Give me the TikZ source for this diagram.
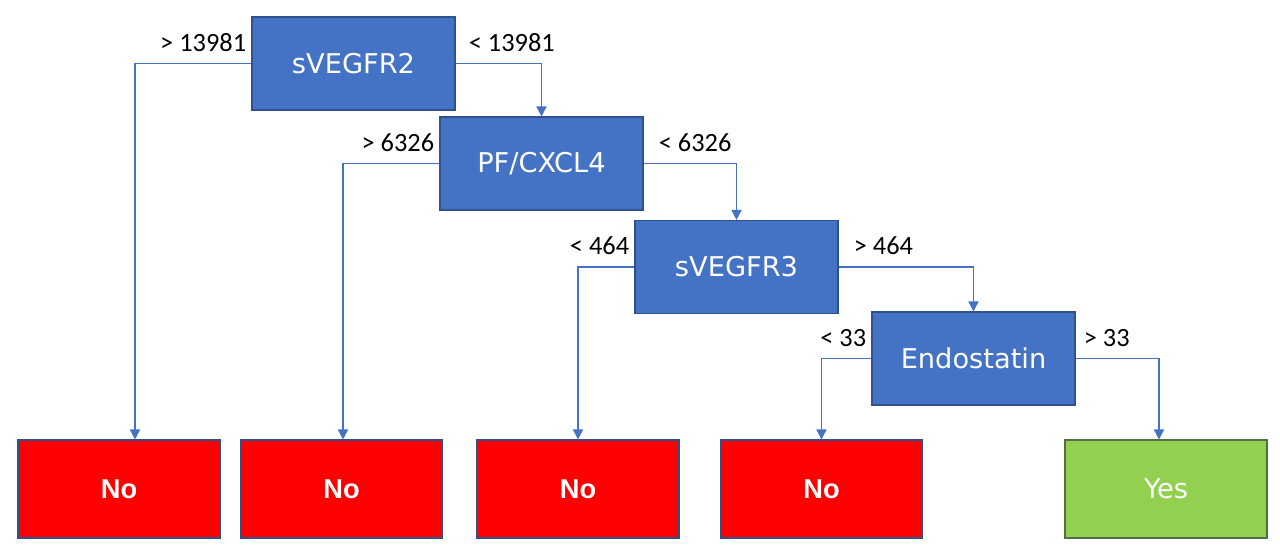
\documentclass[tikz,border=0pt]{standalone}
\usepackage{fontspec}
\newfontfamily\boxfont{DejaVu Sans}
\newfontfamily\leaffont{Liberation Sans}
\newfontfamily\lblfont{Carlito}
\usetikzlibrary{positioning,arrows.meta}

\definecolor{nodeblue}{RGB}{68,114,196}
\definecolor{edgeblue}{RGB}{47,82,143}
\definecolor{leafred}{RGB}{255,0,0}
\definecolor{leafgreen}{RGB}{146,208,80}
\definecolor{greenedge}{RGB}{84,110,70}

\begin{document}
\begin{tikzpicture}

\tikzset{splitbox/.style={draw=edgeblue, line width=0.6pt, fill=nodeblue, rectangle, minimum height=1.86cm, minimum width=4.06cm, inner sep=0pt, text=white, font=\boxfont\fontsize{15.5}{18}\selectfont}}
\tikzset{leafbox/.style={draw=edgeblue, line width=0.6pt, fill=leafred, rectangle, minimum height=1.96cm, minimum width=4.04cm, inner sep=0pt, text=white, font=\leaffont\bfseries\fontsize{15.5}{18}\selectfont}}
\tikzset{yesbox/.style={leafbox, draw=greenedge, fill=leafgreen, font=\boxfont\fontsize{15.5}{18}\selectfont}}
\tikzset{cutlabel/.style={inner sep=0pt, text=black, font=\lblfont\fontsize{15}{18}\selectfont}}
\tikzset{branch/.style={draw=nodeblue, line width=0.9pt, -{Triangle[length=2mm, width=2mm]}}}

\useasboundingbox (0, 0) rectangle (25.6, 11.08);

% decision nodes
\node[splitbox] at ( 7.07, 9.81) (s2) {sVEGFR2};
\node[splitbox] at (10.83, 7.81) (pf) {PF/CXCL4};
\node[splitbox] at (14.73, 5.74) (s3) {sVEGFR3};
\node[splitbox] at (19.47, 3.91) (en) {Endostatin};

% outcomes
\node[leafbox] at ( 2.38, 1.30) (n1) {No};
\node[leafbox] at ( 6.83, 1.30) (n2) {No};
\node[leafbox] at (11.56, 1.30) (n3) {No};
\node[leafbox] at (16.43, 1.30) (n4) {No};
\node[yesbox]  at (23.32, 1.30) (yes) {Yes};

% branches
\draw[branch] (s2.west) -| ([xshift=0.32cm]n1.north);
\draw[branch] (s2.east) -| (pf.north);
\draw[branch] (pf.west) -| ([xshift=0.03cm]n2.north);
\draw[branch] (pf.east) -| (s3.north);
\draw[branch] (s3.west) -| (n3.north);
\draw[branch] (s3.east) -| (en.north);
\draw[branch] (en.west) -| (n4.north);
\draw[branch] (en.east) -| ([xshift=-0.14cm]yes.north);

% cut-off values
\node[cutlabel, above left=0.23cm and 0.1cm of s2.west] (c1) {> 13981};
\node[cutlabel, above right=0.23cm and 0.26cm of s2.east] (c2) {< 13981};
\node[cutlabel, above left=0.23cm and 0.1cm of pf.west] (c3) {> 6326};
\node[cutlabel, above right=0.23cm and 0.3cm of pf.east] (c4) {< 6326};
\node[cutlabel, above left=0.23cm and 0.1cm of s3.west] (c5) {< 464};
\node[cutlabel, above right=0.23cm and 0.3cm of s3.east] (c6) {> 464};
\node[cutlabel, above left=0.23cm and 0.1cm of en.west] (c7) {< 33};
\node[cutlabel, above right=0.23cm and 0.16cm of en.east] (c8) {> 33};

\end{tikzpicture}
\end{document}
